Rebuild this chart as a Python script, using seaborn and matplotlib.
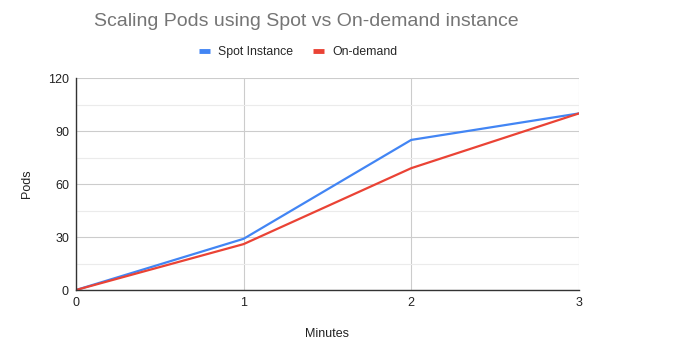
import matplotlib
matplotlib.use("Agg")
import matplotlib.pyplot as plt
import seaborn as sns
import pandas as pd
from matplotlib.ticker import MultipleLocator

minutes = [0, 1, 2, 3]
spot = [0, 29, 85, 100]
on_demand = [0, 26, 69, 100]
series_names = ["Spot Instance", "On-demand"]
colors = ["#4285F4", "#EA4335"]

df = pd.concat([
    pd.DataFrame({"Minutes": minutes, "Pods": spot, "series": series_names[0]}),
    pd.DataFrame({"Minutes": minutes, "Pods": on_demand, "series": series_names[1]}),
])

sns.set_style("white")
plt.rcParams["font.family"] = ["Liberation Sans", "DejaVu Sans"]

fig = plt.figure(figsize=(6.9, 3.55), dpi=100)
ax = fig.add_axes([0.110, 0.183, 0.729, 0.597])

sns.lineplot(data=df, x="Minutes", y="Pods", hue="series",
             palette=dict(zip(series_names, colors)), linewidth=1.6,
             ax=ax, legend=False)

ax.set_xlim(0, 3)
ax.set_ylim(0, 120)
ax.set_xticks(minutes)
ax.yaxis.set_major_locator(MultipleLocator(30))
ax.yaxis.set_minor_locator(MultipleLocator(15))
ax.grid(True, which="major", color="#cccccc", linewidth=0.8)
ax.grid(True, which="minor", axis="y", color="#ebebeb", linewidth=0.8)
ax.set_axisbelow(True)
for s in ["top", "right"]:
    ax.spines[s].set_visible(False)
for s in ["left", "bottom"]:
    ax.spines[s].set_color("#333333")
    ax.spines[s].set_linewidth(1.0)
ax.tick_params(axis="both", which="both", length=0, labelsize=9,
               colors="#222222", pad=5)
ax.set_xlabel("Minutes", fontsize=9, color="#222222", labelpad=14)
ax.set_ylabel("Pods", fontsize=9, color="#222222", labelpad=11)

fig.text(0.444, 0.94, "Scaling Pods using Spot vs On-demand instance",
         ha="center", va="center", fontsize=14.0, color="#757575")

handles = [plt.Line2D([], [], color=c, linewidth=3.5, solid_capstyle="butt")
           for c in colors]
fig.legend(handles, series_names, loc="center", bbox_to_anchor=(0.432, 0.853),
           ncol=2, frameon=False, fontsize=8.8, handlelength=0.9,
           columnspacing=1.6, handletextpad=0.7)

fig.savefig("out.png", dpi=100)
